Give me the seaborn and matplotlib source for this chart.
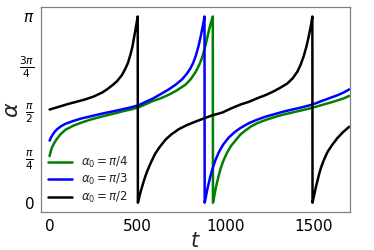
import numpy as np
import pandas as pd
import matplotlib
matplotlib.use("Agg")
import matplotlib.pyplot as plt
import seaborn as sns

# --- data (t, alpha wrapped to [0, pi]) ---
t_black = [0, 50, 100, 150, 200, 250, 300, 330, 360, 383, 410, 430, 445, 459, 470, 477,
           485, 492, 500,
           501, 506, 512, 518, 525, 535, 545, 555, 565, 580, 600, 625, 657, 690, 733, 780,
           830, 866, 920, 980, 1030, 1083, 1130, 1178, 1230, 1273, 1310, 1349, 1380, 1406,
           1425, 1443, 1457, 1468, 1477, 1485, 1491,
           1492, 1497, 1503, 1510, 1520, 1530, 1540, 1555, 1576, 1600, 1633, 1665, 1700]
a_black = [1.571, 1.615, 1.66, 1.70, 1.74, 1.79, 1.86, 1.92, 1.99, 2.05, 2.15, 2.26, 2.36,
           2.50, 2.63, 2.75, 2.88, 3.00, 3.14,
           0.0, 0.06, 0.13, 0.20, 0.27, 0.37, 0.46, 0.54, 0.61, 0.71, 0.83, 0.94, 1.06, 1.15,
           1.24, 1.31, 1.37, 1.41, 1.47, 1.52, 1.59, 1.655, 1.70, 1.76, 1.82, 1.88, 1.94,
           2.01, 2.10, 2.21, 2.33, 2.48, 2.63, 2.77, 2.90, 3.02, 3.14,
           0.0, 0.07, 0.15, 0.25, 0.37, 0.49, 0.59, 0.71, 0.85, 0.96, 1.09, 1.19, 1.28]

t_blue = [0, 8, 18, 30, 45, 65, 90, 136, 180, 231, 280, 326, 375, 420, 465, 506, 545,
          582, 630, 676, 715, 752, 780, 800, 815, 830, 845, 855, 864, 872, 879,
          880, 885, 890, 896, 903, 912, 923, 940, 960, 985, 1017, 1050, 1083, 1130, 1178,
          1225, 1273, 1320, 1368, 1420, 1460, 1491, 1540, 1595, 1640, 1670, 1700]
a_blue = [1.047, 1.10, 1.15, 1.20, 1.245, 1.29, 1.33, 1.38, 1.42, 1.455, 1.49, 1.52,
          1.55, 1.58, 1.61, 1.645, 1.70, 1.75, 1.83, 1.91, 1.99, 2.08, 2.18, 2.27, 2.36,
          2.48, 2.64, 2.77, 2.90, 3.02, 3.14,
          0.0, 0.07, 0.15, 0.24, 0.33, 0.44, 0.56, 0.71, 0.85, 0.98, 1.10, 1.19, 1.26,
          1.34, 1.40, 1.45, 1.49, 1.53, 1.565, 1.60, 1.63, 1.655, 1.71, 1.77, 1.82, 1.86,
          1.91]

t_green = [0, 5, 12, 23, 40, 61, 90, 136, 180, 231, 280, 326, 375, 420, 465, 506, 545,
           582, 630, 676, 720, 771, 800, 828, 850, 866, 880, 893, 903, 912, 920, 926,
           927, 932, 937, 943, 950, 960, 970, 985, 1008, 1030, 1055, 1083, 1112, 1145,
           1178, 1225, 1273, 1320, 1368, 1420, 1491, 1548, 1595, 1640, 1670, 1700]
a_green = [0.785, 0.85, 0.92, 0.99, 1.07, 1.15, 1.23, 1.30, 1.35, 1.40, 1.44, 1.475,
           1.51, 1.545, 1.575, 1.61, 1.66, 1.71, 1.76, 1.82, 1.89, 1.99, 2.08, 2.20, 2.33,
           2.45, 2.60, 2.76, 2.89, 3.00, 3.08, 3.14,
           0.0, 0.07, 0.15, 0.25, 0.34, 0.46, 0.57, 0.70, 0.85, 0.96, 1.05, 1.15, 1.22,
           1.29, 1.34, 1.395, 1.44, 1.48, 1.515, 1.55, 1.60, 1.65, 1.69, 1.73, 1.76, 1.80]

labels = [r"$\alpha_0=\pi/4$", r"$\alpha_0=\pi/3$", r"$\alpha_0=\pi/2$"]
colors = ["green", "blue", "black"]

ytick_vals = [0, np.pi / 4, np.pi / 2, 3 * np.pi / 4, np.pi]
ytick_labels = [r"$0$", r"$\frac{\pi}{4}$", r"$\frac{\pi}{2}$", r"$\frac{3\pi}{4}$", r"$\pi$"]
xtick_vals = [0, 500, 1000, 1500]

sns.set_style("white")
plt.rcParams["font.family"] = ["DejaVu Sans"]
plt.rcParams["mathtext.fontset"] = "dejavusans"

fig = plt.figure(figsize=(3.74, 2.5), dpi=100)
ax = fig.add_axes([0.110, 0.152, 0.826, 0.820])

series = [(t_green, a_green), (t_blue, a_blue), (t_black, a_black)]
for (tt, aa), lab, col in zip(series, labels, colors):
    df = pd.DataFrame({"t": tt, "alpha": aa})
    sns.lineplot(data=df, x="t", y="alpha", ax=ax, sort=False, estimator=None,
                 color=col, linewidth=1.8, label=lab)

ax.set_xlim(-48, 1705)
ax.set_ylim(-0.157, 3.30)
ax.set_xticks(xtick_vals)
ax.set_xticklabels([str(v) for v in xtick_vals], fontsize=11)
ax.set_yticks(ytick_vals)
ax.set_yticklabels(ytick_labels, fontsize=11)
ax.tick_params(axis="both", length=3, width=0.8, color="gray", pad=2, labelcolor="black")
for s in ax.spines.values():
    s.set_color("gray")
    s.set_linewidth(0.9)

ax.set_xlabel(r"$t$", fontsize=15)
ax.xaxis.set_label_coords(0.5, -0.095)
ax.set_ylabel(r"$\alpha$", fontsize=16)
ax.yaxis.set_label_coords(-0.062, 0.5)

leg = ax.legend(loc="lower left", frameon=False, fontsize=8.5, handlelength=2.0,
                borderaxespad=0.2, labelspacing=0.2)

fig.savefig("out.png", dpi=100)
